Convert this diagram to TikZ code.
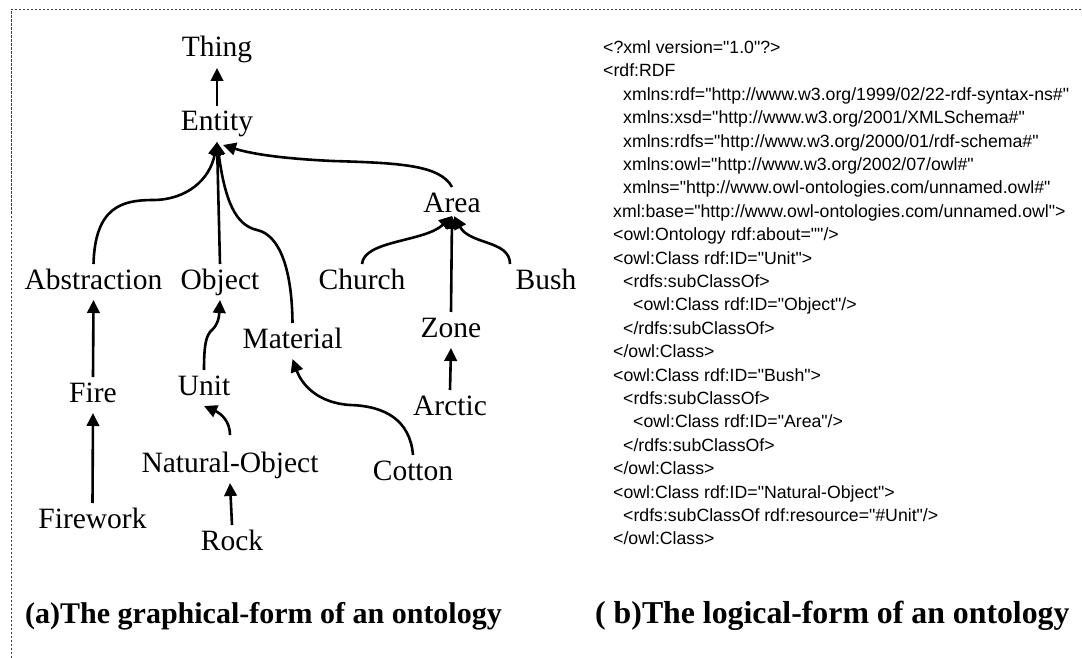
\documentclass[tikz,border=0pt]{standalone}
\usepackage{fontspec}
\setmainfont{Liberation Serif}
\newfontfamily\xmlfont{Liberation Sans}
\usetikzlibrary{arrows.meta}
\begin{document}
\begin{tikzpicture}[x=1pt,y=-1pt,
  cls/.style={font=\fontsize{29.5}{30}\selectfont, anchor=base, inner sep=0pt, outer xsep=0pt, outer ysep=4pt, text height=21pt, text depth=7pt},
  arr/.style={line width=2.6pt, -{Triangle[length=13pt,width=12.5pt]}},
  xml/.style={font=\xmlfont\fontsize{17.7}{18}\selectfont, anchor=base west, inner sep=0pt},
  captext/.style={font=\bfseries\fontsize{30}{31}\selectfont, anchor=base west, inner sep=0pt},
  framestyle/.style={line width=0.9pt, black!75, dash pattern=on 2.5pt off 1.5pt}]
\useasboundingbox (0,0) rectangle (1082,658);
\draw[framestyle] (11,658) -- (11,9.5) -- (1082,9.5);

% ontology graph
\node[cls] (thing) at (217,57) {Thing};
\node[cls] (entity) at (217,131) {Entity};
\node[cls] (area) at (452,212) {Area};
\node[cls] (abs) at (93.5,289) {Abstraction};
\node[cls] (obj) at (220,289) {Object};
\node[cls] (church) at (362,289) {Church};
\node[cls] (bush) at (546,289) {Bush};
\node[cls] (material) at (292.5,348) {Material};
\node[cls] (zone) at (451,337) {Zone};
\node[cls] (fire) at (93,402) {Fire};
\node[cls] (unit) at (204,395) {Unit};
\node[cls] (arctic) at (450,415) {Arctic};
\node[cls] (natobj) at (230,472) {Natural-Object};
\node[cls] (cotton) at (413,480) {Cotton};
\node[cls] (firework) at (92.5,528) {Firework};
\node[cls] (rock) at (232,550) {Rock};

\draw[arr] (entity.north) -- (thing.south);
\draw[arr] (abs.north) .. controls (95,207) and (122,200) .. (153,200) .. controls (186,200) and (210,180) .. (entity.south);
\draw[arr] (obj.north) -- (entity.south);
\draw[arr] (material.north) .. controls (292,270) and (280,235) .. (257,230) .. controls (235,225) and (225,200) .. (entity.south);
\draw[arr] (area.north) .. controls (440,165) and (400,163) .. (333,161) .. controls (290,159) and (255,155) .. ([xshift=6pt,yshift=-3pt]entity.south);
\draw[arr] (church.north) .. controls (364,240) and (425,242) .. ([yshift=7pt]area.south);
\draw[arr] (zone.north) -- ([yshift=7pt]area.south);
\draw[arr] ([xshift=-36pt]bush.north) .. controls (510,240) and (470,245) .. ([xshift=2pt,yshift=7pt]area.south);
\draw[arr] (fire.north) -- (abs.south);
\draw[arr] (firework.north) -- (fire.south);
\draw[arr] (unit.north) .. controls (204,345) and (206,335) .. (212,330) .. controls (218,324) and (219,318) .. (obj.south);
\draw[arr] ([yshift=12pt]natobj.north) .. controls (230,422) and (222,414) .. (unit.south);
\draw[arr] (rock.north) -- (natobj.south);
\draw[arr] (cotton.north) .. controls (410,420) and (385,406) .. (350,405) .. controls (318,403) and (302,385) .. (material.south);
\draw[arr] (arctic.north) -- (zone.south);

% XML listing
\node[xml] (x1) at (603,53.5) {<?xml version="1.0"?>};
\node[xml] (x2) at (603,76.9) {<rdf:RDF};
\node[xml] (x3) at (623,100.3) {xmlns:rdf="http://www.w3.org/1999/02/22-rdf-syntax-ns\#"};
\node[xml] (x4) at (623,123.7) {xmlns:xsd="http://www.w3.org/2001/XMLSchema\#"};
\node[xml] (x5) at (623,147.1) {xmlns:rdfs="http://www.w3.org/2000/01/rdf-schema\#"};
\node[xml] (x6) at (623,170.5) {xmlns:owl="http://www.w3.org/2002/07/owl\#"};
\node[xml] (x7) at (623,193.9) {xmlns="http://www.owl-ontologies.com/unnamed.owl\#"};
\node[xml] (x8) at (613,217.3) {xml:base="http://www.owl-ontologies.com/unnamed.owl">};
\node[xml] (x9) at (613,240.7) {<owl:Ontology rdf:about=""/>};
\node[xml] (x10) at (613,264.1) {<owl:Class rdf:ID="Unit">};
\node[xml] (x11) at (623,287.5) {<rdfs:subClassOf>};
\node[xml] (x12) at (633,310.9) {<owl:Class rdf:ID="Object"/>};
\node[xml] (x13) at (623,334.3) {</rdfs:subClassOf>};
\node[xml] (x14) at (613,357.7) {</owl:Class>};
\node[xml] (x15) at (613,381.1) {<owl:Class rdf:ID="Bush">};
\node[xml] (x16) at (623,404.5) {<rdfs:subClassOf>};
\node[xml] (x17) at (633,427.9) {<owl:Class rdf:ID="Area"/>};
\node[xml] (x18) at (623,451.3) {</rdfs:subClassOf>};
\node[xml] (x19) at (613,474.7) {</owl:Class>};
\node[xml] (x20) at (613,498.1) {<owl:Class rdf:ID="Natural-Object">};
\node[xml] (x21) at (623,521.5) {<rdfs:subClassOf rdf:resource="\#Unit"/>};
\node[xml] (x22) at (613,544.9) {</owl:Class>};

% captions
\node[captext] (capa) at (25,623) {(a)The graphical-form of an ontology};
\node[captext, font=\bfseries\fontsize{31.8}{32}\selectfont] (capb) at (595,623) {( b)The logical-form of an ontology};
\end{tikzpicture}
\end{document}
